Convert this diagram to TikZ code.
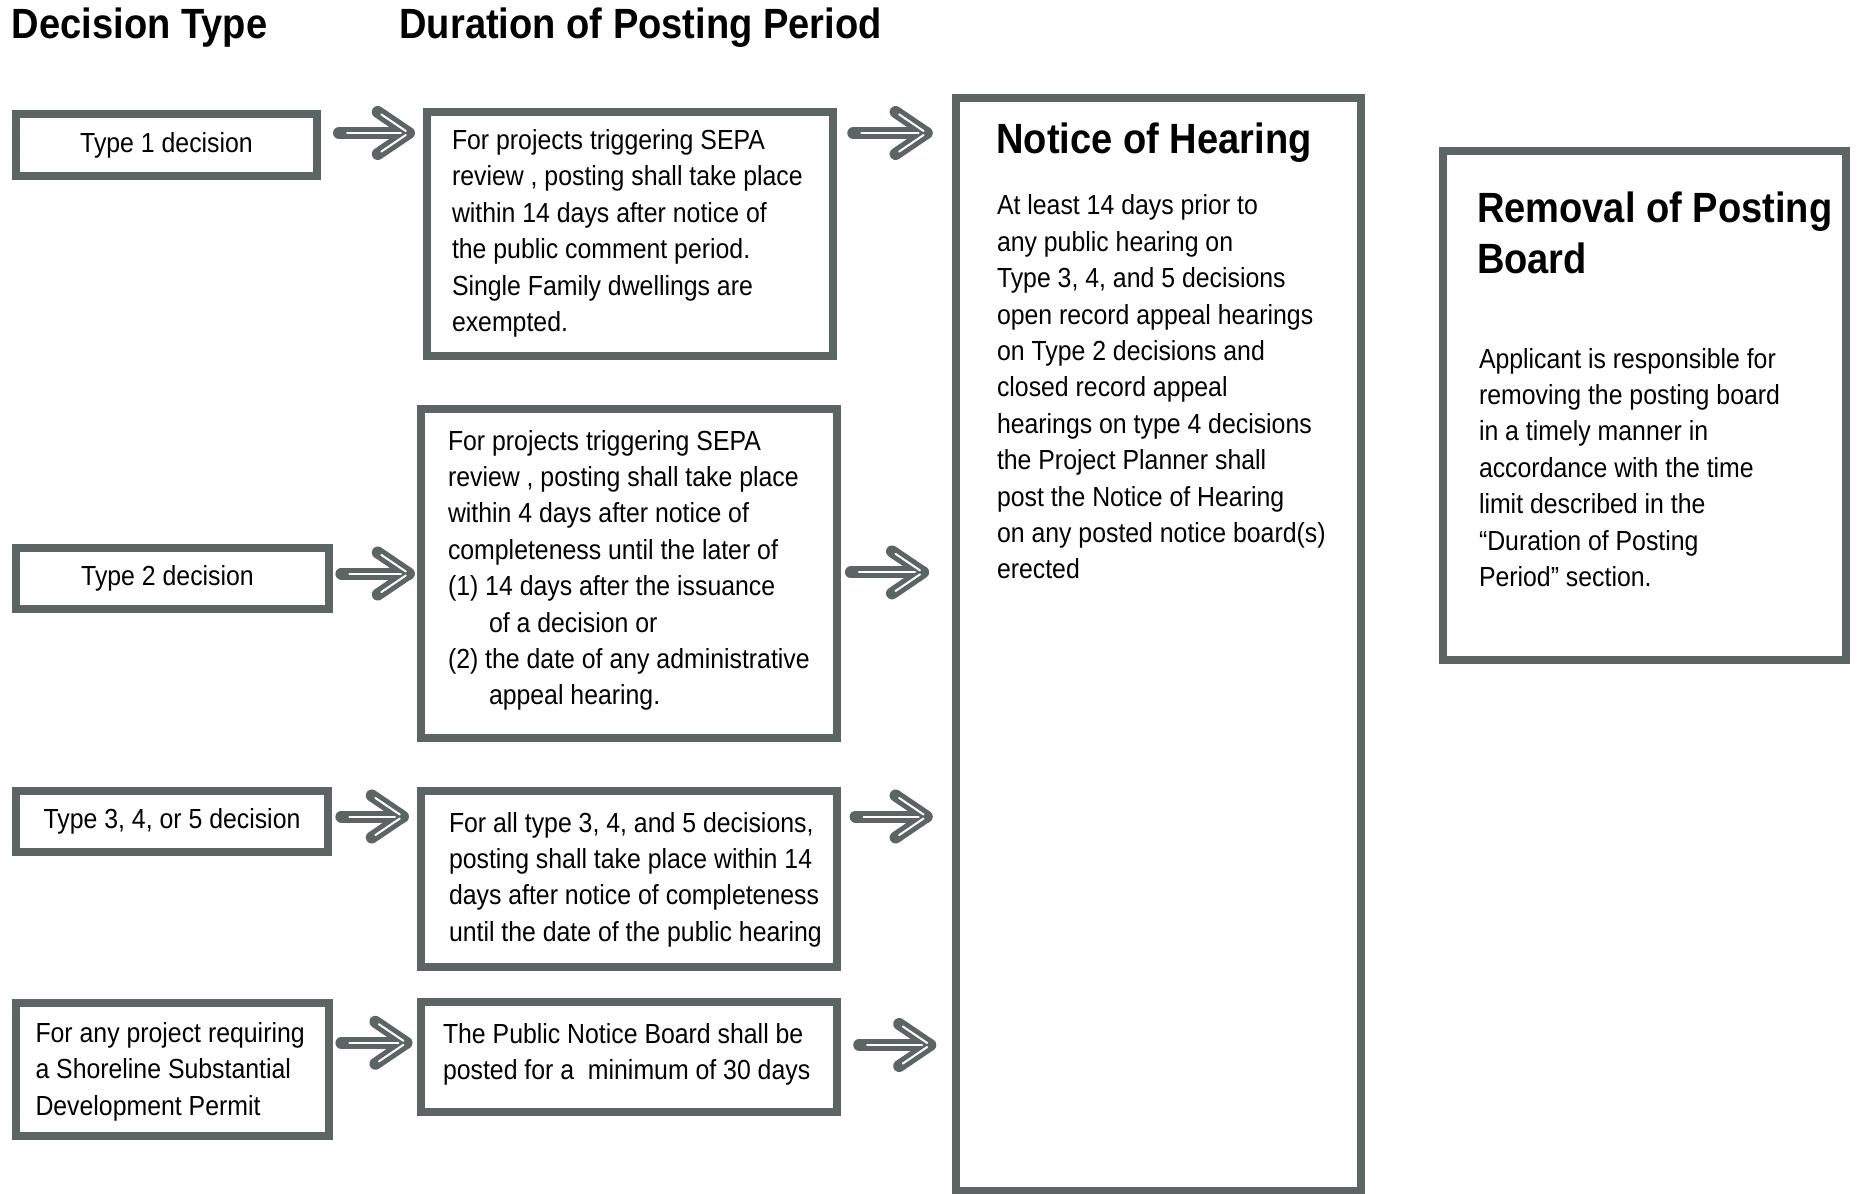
\documentclass[tikz,border=0pt]{standalone}
\usepackage{fontspec}
\setmainfont[FakeStretch=0.9]{Liberation Sans}
\usetikzlibrary{calc}
\definecolor{bordc}{RGB}{92,101,99}
\newcommand{\bodyfont}{\fontsize{27.6}{36.4}\selectfont}
\newcommand{\headfont}{\fontsize{42.3}{51}\selectfont\bfseries}
% #1 from node, #2 to node, #3 y, #4 start offset from #1.east, #5 tip offset before #2.west
\newcommand{\fatarrow}[5]{%
  \coordinate (fay) at (0,#3);
  \coordinate (fas) at ($(#1.east |- fay)+(#4,0)$);
  \coordinate (fat) at ($(#2.west |- fay)+(-#5,0)$);
  \draw[arrbody] (fas) -- (fat);
  \draw[arrbody] ($(fat)+(-31,-21)$) -- (fat) -- ($(fat)+(-31,21)$);
  \draw[arrline] ($(fas)+(8,0)$) -- ($(fat)+(-8,0)$);
  \draw[arrline] ($(fat)+(-27.5,-18.6)$) -- ($(fat)+(-3,-2)$);
  \draw[arrline] ($(fat)+(-27.5,18.6)$) -- ($(fat)+(-3,2)$);
}
\begin{document}
\begin{tikzpicture}[x=1pt,y=-1pt,
  box/.style={draw=bordc, line width=8pt, fill=white, inner sep=0pt, outer sep=0pt, anchor=north west, font=\bodyfont},
  body/.style={font=\bodyfont, align=left, inner sep=0pt, outer sep=0pt, text=black},
  head/.style={font=\headfont, align=left, inner sep=0pt, outer sep=0pt, text=black},
  arrbody/.style={draw=bordc, line width=12pt, line cap=round, line join=round},
  arrline/.style={draw=white, line width=2pt, line cap=round}]
\useasboundingbox (0,0) rectangle (1858,1194);
\fill[white] (0,0) rectangle (1858,1194);

% headings
\node[head, anchor=base west] (hDec) at (12,38.5) {Decision Type};
\node[head, anchor=base west] (hDur) at (399.5,38.5) {Duration of Posting Period};

% decision type boxes
\node[box, minimum width=301pt, minimum height=62pt] (T1) at (16,114) {Type 1 decision};
\node[box, minimum width=313pt, minimum height=61pt] (T2) at (16,548) {Type 2 decision\hspace*{10pt}};
\node[box, minimum width=312pt, minimum height=61pt] (T3) at (16,791) {Type 3, 4, or 5 decision};
\node[box, minimum width=313pt, minimum height=133pt] (T4) at (16,1003) {};
\node[body, anchor=north west] (T4t) at (35.5,1022.2) {For any project requiring\\a Shoreline Substantial\\Development Permit};

% duration boxes
\node[box, minimum width=406pt, minimum height=244pt] (A1) at (427,112) {};
\node[body, anchor=north west] (A1t) at (452,129.4) {For projects triggering SEPA\\review , posting shall take place\\within 14 days after notice of\\the public comment period.\\Single Family dwellings are\\exempted.};

\node[box, minimum width=416pt, minimum height=329pt] (A2) at (421,409) {};
\node[body, anchor=north west] (A2t) at (448,430) {For projects triggering SEPA\\review , posting shall take place\\within 4 days after notice of\\completeness until the later of\\(1) 14 days after the issuance\\\hspace*{41pt}of a decision or\\(2) the date of any administrative\\\hspace*{41pt}appeal hearing.};

\node[box, minimum width=416pt, minimum height=176pt] (A3) at (421,791) {};
\node[body, anchor=north west] (A3t) at (449,812.1) {For all type 3, 4, and 5 decisions,\\posting shall take place within 14\\days after notice of completeness\\until the date of the public hearing};

\node[box, minimum width=416pt, minimum height=110pt] (A4) at (421,1002) {};
\node[body, anchor=north west] (A4t) at (443,1023.1) {The Public Notice Board shall be\\posted for a\ \ minimum of 30 days};

% notice of hearing
\node[box, minimum width=405pt, minimum height=1093pt] (NH) at (956,98) {};
\node[head, anchor=base west] (NHh) at (996.4,153) {Notice of Hearing};
\node[body, anchor=north west] (NHt) at (997,194.9) {At least 14 days prior to\\any public hearing on\\Type 3, 4, and 5 decisions\\open record appeal hearings\\on Type 2 decisions and\\closed record appeal\\hearings on type 4 decisions\\the Project Planner shall\\post the Notice of Hearing\\on any posted notice board(s)\\erected};

% removal
\node[box, minimum width=403pt, minimum height=509pt] (RM) at (1443,151) {};
\node[head, anchor=north west] (RMh) at (1477,192.1) {Removal of Posting\\Board};
\node[body, anchor=north west] (RMt) at (1479,348) {Applicant is responsible for\\removing the posting board\\in a timely manner in\\accordance with the time\\limit described in the\\“Duration of Posting\\Period” section.};

% arrows
\fatarrow{T1}{A1}{133}{22}{18.2}
\fatarrow{A1}{NH}{133}{20.3}{29.4}
\fatarrow{T2}{A2}{573.5}{12.4}{12.2}
\fatarrow{A2}{NH}{572.4}{13.9}{33}
\fatarrow{T3}{A3}{816.5}{13.4}{18.2}
\fatarrow{A3}{NH}{816.5}{18.6}{29.4}
\fatarrow{T4}{A4}{1042.8}{12.4}{14.6}
\fatarrow{A4}{NH}{1045}{22.2}{25.8}
\end{tikzpicture}
\end{document}
